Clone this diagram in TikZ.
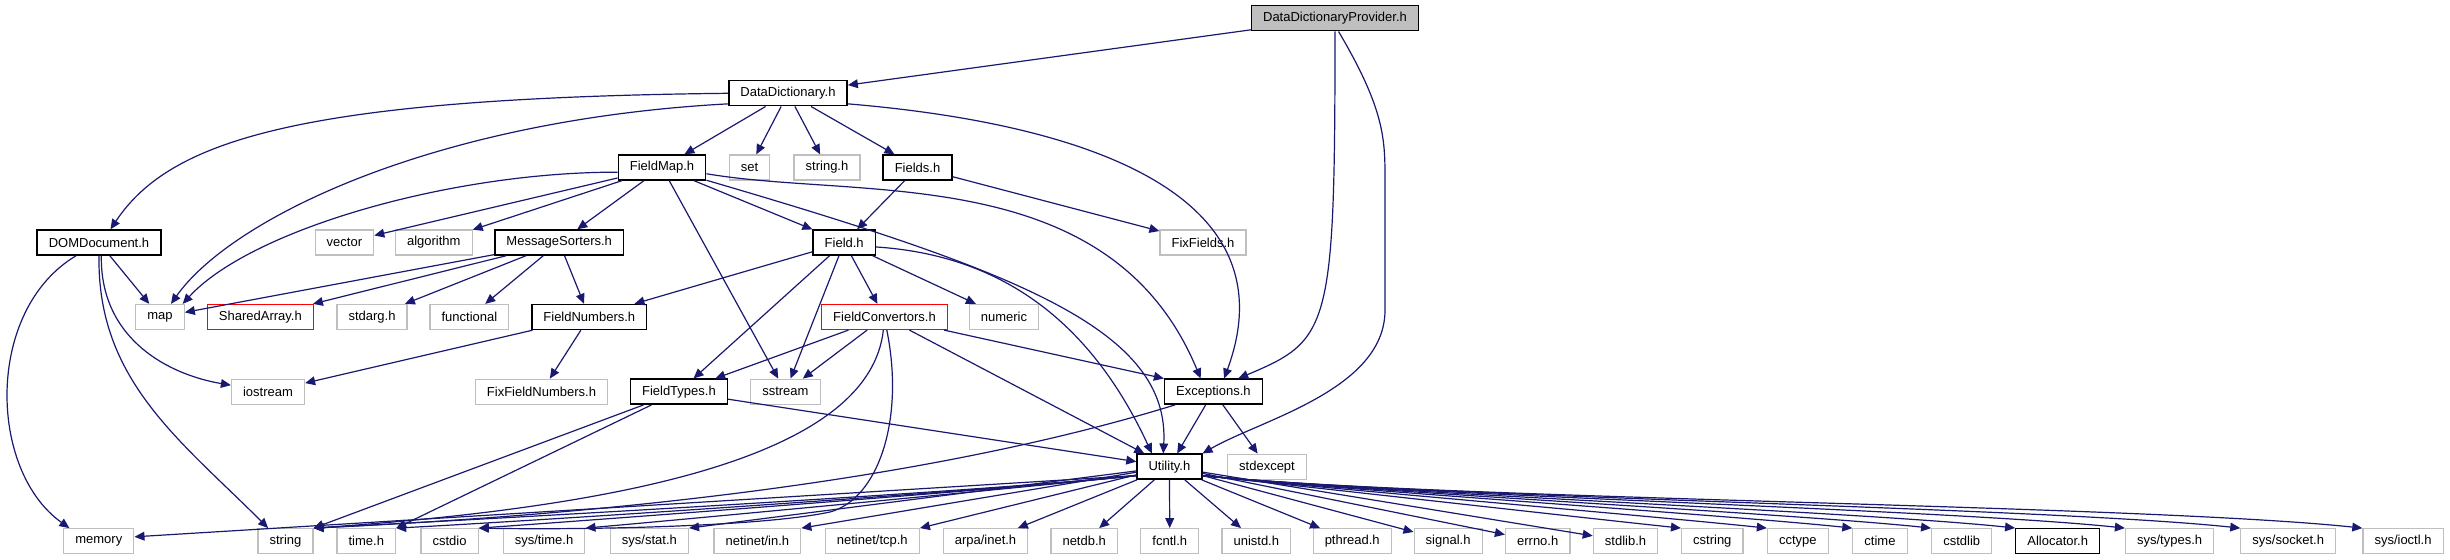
\documentclass[tikz,border=0pt]{standalone}
\usepackage{fontspec}
\setmainfont{Liberation Sans}
\usetikzlibrary{arrows.meta}
\definecolor{edgeblue}{HTML}{191970}
\definecolor{boxgray}{HTML}{BFBFBF}

\begin{document}
\begin{tikzpicture}[x=0.5pt, y=0.5pt,
  box/.style={draw=black, line width=0.7pt, fill=white, minimum height=12.5pt,
              inner xsep=5.8pt, inner ysep=0pt, font=\fontsize{6.5}{7}\selectfont},
  ext/.style={box, draw=boxgray, line width=0.6pt},
  warn/.style={box, draw=red, line width=0.6pt},
  root/.style={box, fill=boxgray},
  arrow/.style={-{Triangle[length=5pt,width=4.4pt]}, edgeblue, line width=0.6pt}
]
\useasboundingbox (0,0) rectangle (2450,-560);
%% TOP LEVELS
\node[root] (ddp)    at (1335,-18.3)   {DataDictionaryProvider.h};
\node[box]  (dd)     at (788,-93.3)    {DataDictionary.h};
\node[box]  (fmap)   at (662,-167.5)   {FieldMap.h};
\node[ext]  (set)    at (749.5,-167.5) {set};
\node[ext]  (strh)   at (827,-167.5)   {string.h};
\node[box]  (fields) at (917.5,-167.5) {Fields.h};
%% MIDDLE LEVELS
\node[box]  (dom)     at (99,-242.5)    {DOMDocument.h};
\node[ext]  (vec)     at (344.4,-242.5) {vector};
\node[ext]  (algo)    at (433.8,-242.5) {algorithm};
\node[box]  (msort)   at (559.2,-242.5) {MessageSorters.h};
\node[box]  (field)   at (844.2,-242.5) {Field.h};
\node[ext]  (fixf)    at (1203,-242.5)  {FixFields.h};
\node[ext]  (map)     at (160,-317)     {map};
\node[warn] (sarr)    at (260.4,-317)   {SharedArray.h};
\node[ext]  (stdarg)  at (372,-317)     {stdarg.h};
\node[ext]  (func)    at (469.4,-317)   {functional};
\node[box]  (fnum)    at (589.3,-317)   {FieldNumbers.h};
\node[warn] (fconv)   at (884.5,-317)   {FieldConvertors.h};
\node[ext]  (numeric) at (1004,-317)    {numeric};
\node[ext]  (iostr)   at (268,-391.7)   {iostream};
\node[ext]  (fixfn)   at (541.5,-391.7) {FixFieldNumbers.h};
\node[box]  (ftypes)  at (678.9,-391.7) {FieldTypes.h};
\node[ext]  (sstr)    at (785.4,-391.7) {sstream};
\node[box]  (exc)     at (1213.4,-391.7) {Exceptions.h};
\node[box]  (util)    at (1169.4,-466.7) {Utility.h};
\node[ext]  (stdexc)  at (1267,-466.7)  {stdexcept};
%% SYSTEM HEADERS
\node[ext] (memory)   at (98.8,-541.2)   {memory};
\node[ext] (string)   at (285.5,-541.2)  {string};
\node[ext] (timeh)    at (366.3,-541.2)  {time.h};
\node[ext] (cstdio)   at (449.6,-541.2)  {cstdio};
\node[ext] (systime)  at (544,-541.2)    {sys/time.h};
\node[ext] (sysstat)  at (649.4,-541.2)  {sys/stat.h};
\node[ext] (netin)    at (757.4,-541.2)  {netinet/in.h};
\node[ext] (nettcp)   at (872.3,-541.2)  {netinet/tcp.h};
\node[ext] (arpainet) at (985.5,-541.2)  {arpa/inet.h};
\node[ext] (netdb)    at (1084.2,-541.2) {netdb.h};
\node[ext] (fcntl)    at (1169.8,-541.2) {fcntl.h};
\node[ext] (unistd)   at (1256.3,-541.2) {unistd.h};
\node[ext] (pthread)  at (1352.2,-541.2) {pthread.h};
\node[ext] (signal)   at (1448.1,-541.2) {signal.h};
\node[ext] (errno)    at (1537.7,-541.2) {errno.h};
\node[ext] (stdlib)   at (1625.5,-541.2) {stdlib.h};
\node[ext] (cstring)  at (1712.3,-541.2) {cstring};
\node[ext] (cctype)   at (1797.8,-541.2) {cctype};
\node[ext] (ctime)    at (1880,-541.2)   {ctime};
\node[ext] (cstdlib)  at (1961.7,-541.2) {cstdlib};
\node[box] (alloc)    at (2057.7,-541.2) {Allocator.h};
\node[ext] (systypes) at (2169.6,-541.2) {sys/types.h};
\node[ext] (syssock)  at (2288.2,-541.2) {sys/socket.h};
\node[ext] (sysioctl) at (2403,-541.2)   {sys/ioctl.h};
%% DataDictionaryProvider.h
\draw[arrow](ddp)--(dd);
\draw[arrow](ddp.south) .. controls (1335,-330) and (1330,-340) .. (exc.28);
\draw[arrow](ddp.-75) .. controls (1385,-110) and (1385,-140) .. (1385,-180) -- (1385,-310)
  .. controls (1385,-390) and (1260,-420) .. (util.north east);
%% DataDictionary.h
\draw[arrow](dd.west) .. controls (300,-98) and (170,-140) .. (dom.49);
\draw[arrow](dd.190) .. controls (430,-120) and (230,-220) .. (map.50);
\draw[arrow](dd)--(fmap); \draw[arrow](dd)--(set);
\draw[arrow](dd)--(strh); \draw[arrow](dd)--(fields);
\draw[arrow](dd.-10) .. controls (1100,-125) and (1290,-200) .. (exc.51);
%% FieldMap.h
\draw[arrow](fmap.186) .. controls (450,-172) and (250,-230) .. (map.30);
\draw[arrow](fmap)--(vec); \draw[arrow](fmap)--(algo);
\draw[arrow](fmap)--(msort); \draw[arrow](fmap)--(field);
\draw[arrow](fmap)--(sstr);
\draw[arrow](fmap.-16) .. controls (1020,-272) and (1170,-330) .. (util.115);
\draw[arrow](fmap.-8) .. controls (860,-200) and (1110,-160) .. (exc.134);
%% Fields.h
\draw[arrow](fields)--(field); \draw[arrow](fields)--(fixf);
%% DOMDocument.h
\draw[arrow](dom)--(map);
\draw[arrow](dom.-80) .. controls (100,-340) and (170,-375) .. (iostr.170);
\draw[arrow](dom.south) .. controls (97,-380) and (180,-440) .. (string.143);
\draw[arrow](dom.210) .. controls (-15,-310) and (-12,-470) .. (memory.156);
%% MessageSorters.h
\draw[arrow](msort)--(map); \draw[arrow](msort)--(sarr);
\draw[arrow](msort)--(stdarg); \draw[arrow](msort)--(func);
\draw[arrow](msort)--(fnum);
%% Field.h
\draw[arrow](field)--(fnum); \draw[arrow](field)--(ftypes);
\draw[arrow](field)--(sstr); \draw[arrow](field)--(fconv);
\draw[arrow](field)--(numeric);
\draw[arrow](field.-8) .. controls (1000,-255) and (1090,-320) .. (util.143);
%% FieldNumbers.h
\draw[arrow](fnum)--(iostr); \draw[arrow](fnum)--(fixfn);
%% FieldConvertors.h
\draw[arrow](fconv)--(ftypes); \draw[arrow](fconv)--(sstr);
\draw[arrow](fconv)--(exc.north west); \draw[arrow](fconv)--(util);
\draw[arrow](fconv.-95) .. controls (870,-450) and (650,-505) .. (string.north east);
\draw[arrow](fconv.-80) .. controls (905,-420) and (878,-499) .. (830,-512)
  .. controls (760,-527) and (580,-530) .. (cstdio.north east);
%% FieldTypes.h
\draw[arrow](ftypes)--(string.north east); \draw[arrow](ftypes)--(timeh.north east);
\draw[arrow](ftypes)--(util);
%% Exceptions.h
\draw[arrow](exc)--(util); \draw[arrow](exc)--(stdexc);
\draw[arrow](exc.199) .. controls (980,-465) and (700,-510) .. (string.north east);
%% Utility.h
\draw[arrow](util.195)--(memory.7);
\draw[arrow](util.195) to[out=186,in=3,looseness=0.5] (string.north east);
\draw[arrow](util.195) to[out=186,in=3,looseness=0.5] (timeh.north east);
\draw[arrow](util.195) to[out=186,in=4,looseness=0.5] (cstdio.north east);
\draw[arrow](util.195) to[out=186,in=5,looseness=0.5] (systime.north east);
\draw[arrow](util)--(sysstat.north east); \draw[arrow](util)--(netin.north east);
\draw[arrow](util)--(nettcp.north east); \draw[arrow](util)--(arpainet);
\draw[arrow](util)--(netdb); \draw[arrow](util)--(fcntl);
\draw[arrow](util)--(unistd); \draw[arrow](util)--(pthread);
\draw[arrow](util)--(signal); \draw[arrow](util)--(errno);
\draw[arrow](util)--(stdlib);
\draw[arrow](util.-15) to[out=-6,in=174,looseness=0.5] (cstring.north west);
\draw[arrow](util.-15) to[out=-6,in=174,looseness=0.5] (cctype.north west);
\draw[arrow](util.-15) to[out=-6,in=174,looseness=0.5] (ctime.north west);
\draw[arrow](util.-15) to[out=-6,in=174,looseness=0.5] (cstdlib.north west);
\draw[arrow](util.-15) to[out=-6,in=174,looseness=0.5] (alloc.north west);
\draw[arrow](util.-15) to[out=-6,in=174,looseness=0.5] (systypes.north west);
\draw[arrow](util.-15) to[out=-6,in=174,looseness=0.5] (syssock.north west);
\draw[arrow](util.-15) to[out=-6,in=174,looseness=0.5] (sysioctl.north west);
\end{tikzpicture}
\end{document}
